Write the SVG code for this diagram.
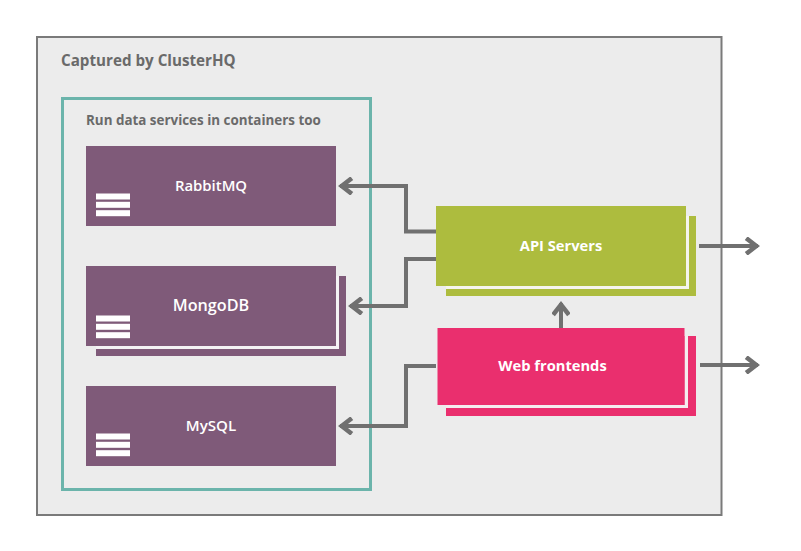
<svg xmlns="http://www.w3.org/2000/svg" width="801" height="551" viewBox="0 0 801 551">
<defs>
<style>
.t{font-family:"Open Sans","Noto Sans","Liberation Sans",sans-serif;font-weight:600}
.b{font-weight:700}
.h{fill:#6a6a6a;font-weight:700}
.n{fill:#fff;text-anchor:middle}
.p{fill:#7f5a79}
.bar{fill:#fff}
.c{fill:none;stroke:#707070;stroke-width:4}
</style>
<marker id="a" markerUnits="userSpaceOnUse" markerWidth="18" markerHeight="18" refX="13.500" refY="8" orient="auto" viewBox="0 0 16 16"><path d="M3 1L12 8L3 15" fill="none" stroke="#707070" stroke-width="4" stroke-miterlimit="6"/></marker>
<g id="db"><rect class="bar" x="96" y="0" width="34" height="6"/><rect class="bar" x="96" y="8.300" width="34" height="6"/><rect class="bar" x="96" y="16.700" width="34" height="6"/></g>
</defs>
<rect width="801" height="551" fill="#fff"/>
<g id="captured"><rect x="37" y="37" width="684.500" height="478" fill="#ececec" stroke="#7a7a7a" stroke-width="2"/><text class="t h" x="61" y="65.500" font-size="15.200">Captured by ClusterHQ</text></g>
<g id="data-services"><rect x="62.500" y="98.500" width="308" height="391" fill="none" stroke="#6bb4ab" stroke-width="3"/><text class="t h" x="86" y="125" font-size="13.400">Run data services in containers too</text></g>
<g id="connectors">
<path class="c" marker-end="url(#a)" d="M436 231.500H406V186H340"/>
<path class="c" marker-end="url(#a)" d="M436 259H406V306H350"/>
<path class="c" marker-end="url(#a)" d="M436 366H406V426H340"/>
<path class="c" marker-end="url(#a)" d="M561 328V303"/>
<path class="c" marker-end="url(#a)" d="M699 246H758"/>
<path class="c" marker-end="url(#a)" d="M700 365H758"/>
</g>
<g id="rabbitmq"><rect class="p" x="86" y="146" width="250" height="80"/><use href="#db" y="193.500"/><text class="t n" x="211" y="191" font-size="14.900">RabbitMQ</text></g>
<g id="mongodb"><rect class="p" x="96" y="276" width="250" height="80"/><path d="M339 276V349H96V346H336V276Z" fill="#f4f2f4"/><rect class="p" x="86" y="266" width="250" height="80"/><use href="#db" y="315.500"/><text class="t n" x="211" y="311" font-size="16.200">MongoDB</text></g>
<g id="mysql"><rect class="p" x="86" y="386" width="250" height="80"/><use href="#db" y="433.500"/><text class="t n" x="211" y="431" font-size="15.100">MySQL</text></g>
<g id="api-servers"><rect x="446" y="216" width="250" height="80" fill="#adbc3e"/><path d="M689 216V289H446V286H686V216Z" fill="#f5f5ee"/><rect x="436" y="206" width="250" height="80" fill="#adbc3e"/><text class="t n b" x="561" y="251" font-size="14.700">API Servers</text></g>
<g id="web-frontends"><rect x="446" y="336" width="250" height="80" fill="#ea2f6e"/><path d="M688 336V408H446V405H684.500V336Z" fill="#f4ecef"/><rect x="437.500" y="328" width="247" height="77" fill="#ea2f6e"/><text class="t n b" x="552.500" y="371" font-size="14.700">Web frontends</text></g>
</svg>
